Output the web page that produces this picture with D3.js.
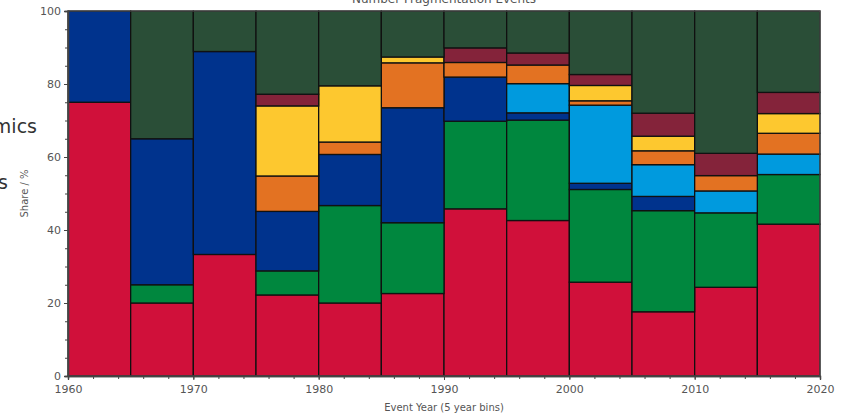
<!DOCTYPE html>
<html>
<head>
<meta charset="utf-8">
<script src="https://cdn.jsdelivr.net/npm/d3@7"></script>
<style>
  html, body { margin: 0; padding: 0; background: #fff; overflow: hidden; }
  svg { display: block; font-family: "DejaVu Sans", sans-serif; }
</style>
</head>
<body>
<svg id="chart" width="850" height="417"></svg>
<script>
// 5-year bin start years
const binStarts = [1960, 1965, 1970, 1975, 1980, 1985, 1990, 1995, 2000, 2005, 2010, 2015];
const binWidth = 5;

// Share (%) of fragmentation events per group, stacked bottom to top
const seriesKeys = ["red", "green", "blue", "lightBlue", "orange", "yellow", "maroon", "darkGreen"];
const red       = [75.0, 20.0, 33.3, 22.2, 20.0, 22.6, 45.8, 42.6, 25.7, 17.6, 24.3, 41.6];
const green     = [ 0.0,  5.0,  0.0,  6.6, 26.7, 19.4, 24.0, 27.5, 25.4, 27.7, 20.4, 13.6];
const blue      = [25.0, 40.0, 55.6, 16.3, 14.0, 31.5, 12.1,  2.0,  1.7,  3.9,  0.0,  0.0];
const lightBlue = [ 0.0,  0.0,  0.0,  0.0,  0.0,  0.0,  0.0,  8.0, 21.4,  8.7,  6.0,  5.6];
const orange    = [ 0.0,  0.0,  0.0,  9.7,  3.4, 12.3,  4.0,  5.1,  1.2,  3.8,  4.2,  5.7];
const yellow    = [ 0.0,  0.0,  0.0, 19.2, 15.4,  1.6,  0.0,  0.0,  4.2,  4.0,  0.0,  5.4];
const maroon    = [ 0.0,  0.0,  0.0,  3.2,  0.0,  0.0,  4.0,  3.3,  3.0,  6.3,  6.1,  5.8];
const darkGreen = [ 0.0, 35.0, 11.1, 22.8, 20.5, 12.6, 10.1, 11.5, 17.4, 28.0, 39.0, 22.3];

const seriesColors = ["#d0103a", "#00873e", "#00338d", "#009ade", "#e37222", "#fdc82f", "#84233a", "#2a4e37"];

const xTicks = [1960, 1970, 1980, 1990, 2000, 2010, 2020];
const yTicks = [0, 20, 40, 60, 80, 100];

const title = "Number Fragmentation Events";
const xTitle = "Event Year (5 year bins)";
const yTitle = "Share / %";

// Build the table for d3.stack
const seriesArrays = [red, green, blue, lightBlue, orange, yellow, maroon, darkGreen];
const rows = binStarts.map((yr, i) => {
  const r = { year: yr };
  seriesKeys.forEach((k, j) => { r[k] = seriesArrays[j][i]; });
  return r;
});

const svg = d3.select("#chart");
const margin = { left: 68, right: 30, top: 11, bottom: 41 };
const W = 850, H = 417;

const x = d3.scaleLinear().domain([1960, 2020]).range([margin.left, W - margin.right]);
const y = d3.scaleLinear().domain([0, 100]).range([H - margin.bottom, margin.top]);
const color = d3.scaleOrdinal().domain(seriesKeys).range(seriesColors);

const stacked = d3.stack().keys(seriesKeys)(rows);

// Bars
const layers = svg.append("g").selectAll("g")
  .data(stacked).join("g")
  .attr("fill", d => color(d.key));

layers.selectAll("rect")
  .data(d => d.filter(s => s[1] - s[0] > 0))
  .join("rect")
  .attr("x", d => x(d.data.year))
  .attr("width", d => x(d.data.year + binWidth) - x(d.data.year))
  .attr("y", d => y(d[1]))
  .attr("height", d => y(d[0]) - y(d[1]))
  .attr("stroke", "#111")
  .attr("stroke-width", 1.3);

// Frame
svg.append("rect")
  .attr("x", x(1960)).attr("y", y(100))
  .attr("width", x(2020) - x(1960)).attr("height", y(0) - y(100))
  .attr("fill", "none").attr("stroke", "#555").attr("stroke-width", 1);

// X axis
const xAxis = svg.append("g").attr("transform", `translate(0,${y(0)})`);
xAxis.call(d3.axisBottom(x).tickValues(d3.range(1960, 2021, 2)).tickSize(3).tickFormat(""));
xAxis.append("g").call(d3.axisBottom(x).tickValues(xTicks).tickSize(4).tickFormat(d3.format("d")));
xAxis.selectAll(".domain").attr("stroke", "#444").attr("stroke-width", 1.3);
xAxis.selectAll(".tick line").attr("stroke", "#444");
xAxis.selectAll(".tick text")
  .attr("fill", "#555").attr("font-size", 11).attr("font-family", "DejaVu Sans").attr("dy", "0.95em");

// Y axis
const yAxis = svg.append("g").attr("transform", `translate(${x(1960)},0)`);
yAxis.call(d3.axisLeft(y).tickValues(d3.range(0, 101, 5)).tickSize(3).tickFormat(""));
yAxis.append("g").call(d3.axisLeft(y).tickValues(yTicks).tickSize(4));
yAxis.selectAll(".domain").attr("stroke", "#444").attr("stroke-width", 1.3);
yAxis.selectAll(".tick line").attr("stroke", "#444");
yAxis.selectAll(".tick text")
  .attr("fill", "#555").attr("font-size", 11).attr("font-family", "DejaVu Sans").attr("x", -7);

// Titles
svg.append("text")
  .attr("x", (x(1960) + x(2020)) / 2).attr("y", 3)
  .attr("text-anchor", "middle").attr("fill", "#555").attr("font-size", 12)
  .text(title);

svg.append("text")
  .attr("x", (x(1960) + x(2020)) / 2).attr("y", 411)
  .attr("text-anchor", "middle").attr("fill", "#555").attr("font-size", 10)
  .text(xTitle);

svg.append("text")
  .attr("transform", `translate(28,${(y(0) + y(100)) / 2}) rotate(-90)`)
  .attr("text-anchor", "middle").attr("fill", "#555").attr("font-size", 10)
  .text(yTitle);

// Side labels partly outside the page
svg.append("text")
  .attr("x", 37).attr("y", 133)
  .attr("text-anchor", "end").attr("fill", "#333").attr("font-size", 19)
  .text("mics");
svg.append("text")
  .attr("x", 8).attr("y", 189)
  .attr("text-anchor", "end").attr("fill", "#333").attr("font-size", 19)
  .text("s");
</script>
</body>
</html>
